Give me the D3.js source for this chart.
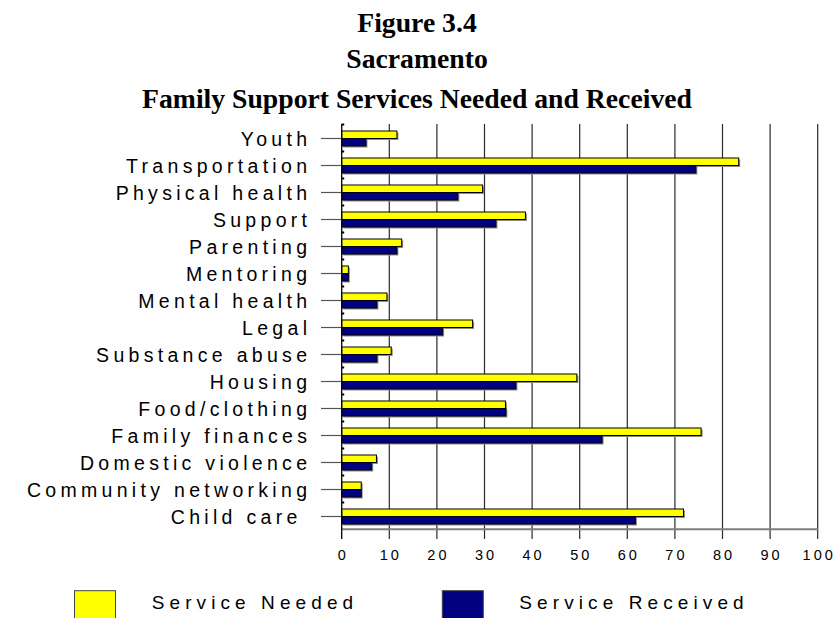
<!DOCTYPE html>
<html>
<head>
<meta charset="utf-8">
<script src="https://cdn.jsdelivr.net/npm/d3@7"></script>
<style>
  html, body { margin: 0; padding: 0; background: #fff; }
  svg { display: block; }
</style>
</head>
<body>
<svg id="chart" width="835" height="618"></svg>
<script>
// Family support services, Sacramento (percent of families)
const categories = [
  "Youth", "Transportation", "Physical health", "Support", "Parenting",
  "Mentoring", "Mental health", "Legal", "Substance abuse", "Housing",
  "Food/clothing", "Family finances", "Domestic violence",
  "Community networking", "Child care "
];
const needed   = [11.6, 83.4, 29.6, 38.6, 12.6, 1.4, 9.5, 27.5, 10.4, 49.4, 34.4, 75.5, 7.3, 4.1, 71.8];
const received = [5.1, 74.4, 24.4, 32.4, 11.6, 1.4, 7.4, 21.2, 7.4, 36.6, 34.5, 54.7, 6.3, 4.1, 61.7];
const seriesNames = ["Service Needed", "Service Received"];
const seriesColors = ["#ffff00", "#000080"];
const xTicks = [0, 10, 20, 30, 40, 50, 60, 70, 80, 90, 100];
const titleLines = ["Figure 3.4", "Sacramento", "Family Support Services Needed and Received"];

const svg = d3.select("#chart");

const plot = { left: 341.7, right: 817.7, top: 124, bottom: 529.3, tickEnd: 539 };

const x = d3.scaleLinear().domain([0, 100]).range([plot.left, plot.right]);
const y = d3.scaleBand().domain(categories).range([125, 530])
  .paddingInner(0.444).paddingOuter(0.222);
const ySub = d3.scaleBand().domain(seriesNames).range([0, y.bandwidth()]);

// Title
const titleBaselines = [31.7, 68.3, 108.3];
svg.append("g").selectAll("text").data(titleLines).join("text")
  .attr("x", 417)
  .attr("y", (d, i) => titleBaselines[i])
  .attr("text-anchor", "middle")
  .attr("font-family", "'Liberation Serif', 'Times New Roman', serif")
  .attr("font-weight", "bold")
  .attr("font-size", 27.7)
  .attr("fill", "#000")
  .text(d => d);

// Vertical gridlines with tick extensions below the axis
svg.append("g").selectAll("line").data(xTicks.slice(1)).join("line")
  .attr("x1", d => x(d)).attr("x2", d => x(d))
  .attr("y1", plot.top).attr("y2", plot.tickEnd)
  .attr("stroke", "#2a2a2a").attr("stroke-width", 1.2);

// Horizontal base axis line
svg.append("line")
  .attr("x1", plot.left).attr("x2", plot.right)
  .attr("y1", plot.bottom).attr("y2", plot.bottom)
  .attr("stroke", "#7f7f7f").attr("stroke-width", 2);

// X tick labels
const tickSpacing = 3;
svg.append("g").selectAll("text").data(xTicks).join("text")
  .attr("x", d => x(d) + tickSpacing / 2)
  .attr("y", 560)
  .attr("text-anchor", "middle")
  .attr("font-family", "'Liberation Sans', Arial, sans-serif")
  .attr("font-size", 14.5)
  .attr("letter-spacing", tickSpacing)
  .attr("fill", "#000")
  .text(d => d);

// Category tick marks (left of axis) and band separators (inside)
svg.append("g").selectAll("line").data(categories).join("line")
  .attr("x1", 321).attr("x2", plot.left)
  .attr("y1", d => y(d) + y.bandwidth() / 2)
  .attr("y2", d => y(d) + y.bandwidth() / 2)
  .attr("stroke", "#555").attr("stroke-width", 1.2);

svg.append("g").selectAll("line").data(categories).join("line")
  .attr("x1", plot.left).attr("x2", plot.left + 2.5)
  .attr("y1", d => y(d) - y.step() * y.paddingInner() / 2 - 0.5)
  .attr("y2", d => y(d) - y.step() * y.paddingInner() / 2 - 0.5)
  .attr("stroke", "#000").attr("stroke-width", 2);

// Category labels
const labelSpacing = 4.3;
svg.append("g").selectAll("text").data(categories).join("text")
  .attr("x", 307 + labelSpacing)
  .attr("y", d => y(d) + y.bandwidth() / 2 + 7)
  .attr("text-anchor", "end")
  .attr("font-family", "'Liberation Sans', Arial, sans-serif")
  .attr("font-size", 19.5)
  .attr("letter-spacing", labelSpacing)
  .style("white-space", "pre")
  .attr("fill", "#000")
  .text(d => d);

// Bars
const rows = categories.map((c, i) => ({ cat: c, values: [needed[i], received[i]] }));
const groups = svg.append("g").selectAll("g").data(rows).join("g")
  .attr("transform", d => `translate(0,${y(d.cat)})`);

const bars = groups.selectAll("g").data(d => d.values.map((v, j) => ({ v, j })))
  .join("g");

// soft grey shadow behind each bar
bars.append("rect")
  .attr("x", x(0) + 1.5)
  .attr("y", d => ySub(seriesNames[d.j]) + 1.5)
  .attr("width", d => x(d.v) - x(0))
  .attr("height", ySub.bandwidth())
  .attr("fill", "#8c8c8c");

bars.append("rect")
  .attr("x", x(0))
  .attr("y", d => ySub(seriesNames[d.j]))
  .attr("width", d => x(d.v) - x(0))
  .attr("height", ySub.bandwidth())
  .attr("fill", d => seriesColors[d.j])
  .attr("stroke", "#000").attr("stroke-width", 1);

// Left axis line
svg.append("line")
  .attr("x1", plot.left).attr("x2", plot.left)
  .attr("y1", plot.top).attr("y2", plot.tickEnd)
  .attr("stroke", "#000").attr("stroke-width", 1.3);

// Legend
const legendBoxes = [74.5, 442.3];
const legendTexts = [151.7, 519.3];
const legend = svg.append("g").selectAll("g").data(seriesNames).join("g");
legend.append("rect")
  .attr("x", (d, i) => legendBoxes[i])
  .attr("y", 590.7)
  .attr("width", 41).attr("height", 41)
  .attr("fill", (d, i) => seriesColors[i])
  .attr("stroke", "#444").attr("stroke-width", 1);
legend.append("text")
  .attr("x", (d, i) => legendTexts[i])
  .attr("y", 609.3)
  .attr("font-family", "'Liberation Sans', Arial, sans-serif")
  .attr("font-size", 19)
  .attr("letter-spacing", 5.1)
  .attr("fill", "#000")
  .text(d => d);
</script>
</body>
</html>
